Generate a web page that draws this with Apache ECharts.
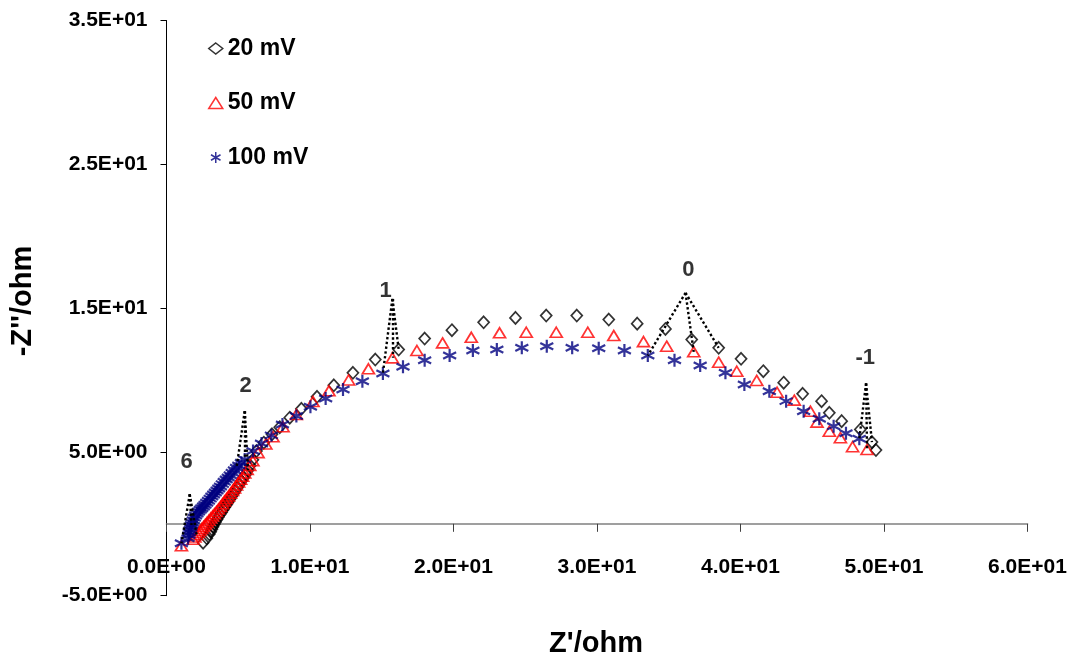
<!DOCTYPE html>
<html><head><meta charset="utf-8">
<script src="https://cdn.jsdelivr.net/npm/echarts@6/dist/echarts.min.js"></script>
<style>html,body{margin:0;padding:0;background:#fff}#c{width:1075px;height:661px}</style>
</head><body><div id="c"></div>
<script>
// ---- data (Z' , -Z'') in ohm ----
const seriesNames = ['20 mV', '50 mV', '100 mV'];

const mv20 = [
  [2.55,-1.31],[2.81,-1.01],[2.98,-0.73],[3.08,-0.55],[3.16,-0.38],[3.24,-0.20],[3.33,-0.03],
  [3.42,0.13],[3.52,0.30],[3.62,0.47],[3.73,0.64],[3.84,0.81],[3.95,0.98],[4.06,1.15],
  [4.18,1.33],[4.30,1.52],[4.42,1.71],[4.55,1.91],[4.68,2.11],[4.81,2.32],[4.95,2.53],
  [5.09,2.75],[5.23,2.97],[5.38,3.20],[5.53,3.45],[5.68,3.72],[5.84,4.05],[6.02,4.45],
  [6.27,5.06],[6.78,5.64],[7.35,6.22],[7.89,6.72],[8.59,7.38],[9.40,8.00],[10.49,8.83],
  [11.66,9.63],[12.99,10.50],[14.55,11.42],[16.18,12.12],[17.99,12.88],[19.89,13.46],
  [22.10,14.01],[24.32,14.32],[26.46,14.48],[28.59,14.48],[30.82,14.20],[32.80,13.92],
  [34.77,13.55],[36.60,12.81],[38.48,12.24],[40.04,11.47],[41.59,10.61],[43.01,9.81],
  [44.33,9.04],[45.65,8.53],[46.19,7.72],[47.05,7.14],[48.35,6.56],[49.16,5.68],[49.44,5.13]
];

const mv50 = [
  [1.04,-1.53],[1.85,-1.08],[1.98,-0.92],[2.10,-0.76],[2.22,-0.61],[2.34,-0.46],[2.46,-0.32],
  [2.58,-0.18],[2.70,-0.04],[2.82,0.10],[2.95,0.25],[3.08,0.40],[3.21,0.55],[3.34,0.70],
  [3.48,0.86],[3.62,1.03],[3.76,1.21],[3.90,1.40],[4.04,1.58],[4.18,1.76],[4.32,1.94],
  [4.46,2.12],[4.60,2.31],[4.74,2.50],[4.88,2.70],[5.02,2.90],[5.16,3.10],[5.30,3.31],
  [5.45,3.53],[5.62,3.78],[5.80,4.05],[6.02,4.38],[6.38,4.95],[6.92,5.55],[7.42,6.05],
  [8.12,6.75],[9.05,7.60],[10.21,8.50],[11.32,9.25],[12.69,10.00],[14.07,10.78],
  [15.74,11.54],[17.45,12.05],[19.24,12.58],[21.24,12.97],[23.21,13.28],[25.07,13.32],
  [27.16,13.32],[29.36,13.32],[31.17,13.09],[33.24,12.67],[34.86,12.35],[36.74,11.96],
  [38.48,11.24],[39.74,10.61],[41.13,9.97],[42.55,9.15],[43.75,8.60],[44.87,7.83],
  [45.33,7.07],[46.19,6.44],[46.96,5.99],[47.81,5.36],[48.82,5.17]
];

const mv100 = [
  [1.04,-1.35],[1.50,-1.00],[1.55,-0.80],[1.60,-0.60],[1.65,-0.42],[1.70,-0.25],[1.74,-0.08],
  [1.79,0.08],[1.86,0.25],[1.94,0.42],[2.03,0.58],[2.13,0.72],[2.24,0.85],[2.35,0.98],
  [2.46,1.08],[2.57,1.20],[2.68,1.33],[2.80,1.46],[2.92,1.60],[3.04,1.75],[3.16,1.90],
  [3.28,2.04],[3.40,2.18],[3.52,2.31],[3.64,2.45],[3.76,2.60],[3.89,2.76],[4.02,2.92],
  [4.16,3.08],[4.30,3.22],[4.44,3.38],[4.58,3.55],[4.73,3.72],[4.88,3.90],[5.04,4.06],
  [5.22,4.24],[5.45,4.48],[6.03,5.06],[6.62,5.59],[7.31,6.15],[8.08,6.91],[9.05,7.49],
  [10.03,8.14],[11.09,8.72],[12.30,9.34],[13.65,9.92],[15.08,10.45],[16.48,10.92],
  [17.99,11.38],[19.73,11.70],[21.35,12.05],[23.02,12.12],[24.76,12.24],[26.50,12.35],
  [28.27,12.24],[30.12,12.21],[31.91,12.05],[33.54,11.70],[35.40,11.38],[37.19,11.01],
  [38.95,10.50],[40.27,9.69],[42.01,9.22],[43.18,8.53],[44.40,7.83],[45.49,7.31],
  [46.49,6.79],[47.35,6.29],[48.28,5.92]
];

// frequency decade markers (log f)
const decadeLabels = ['6', '2', '1', '0', '-1'];
const decadeLabelPos = [[1.41,4.27],[5.52,9.62],[15.27,16.22],[36.37,17.67],[48.69,11.56]];
const decadePeaks = [[1.62,2.05],[5.45,7.83],[15.74,15.64],[36.17,16.06],[48.75,9.76]];
const decadeTargets = [
  [[1.04,-1.35],[1.74,-0.08],[2.10,-0.76]],
  [[4.88,3.90],[5.45,4.48],[5.68,3.72]],
  [[15.08,10.45],[15.74,11.54],[16.18,12.12]],
  [[33.54,11.70],[36.74,11.96],[38.48,12.24]],
  [[48.28,5.92],[48.82,5.17],[49.16,5.68]]
];

// axes
const xTickValues = [0, 10, 20, 30, 40, 50, 60];
const xTickLabels = ['0.0E+00','1.0E+01','2.0E+01','3.0E+01','4.0E+01','5.0E+01','6.0E+01'];
const yTickValues = [-5, 5, 15, 25, 35];
const yTickLabels = ['-5.0E+00','5.0E+00','1.5E+01','2.5E+01','3.5E+01'];

// ---- chart ----
const FONT = 'Arial, "Liberation Sans", sans-serif';
const chart = echarts.init(document.getElementById('c'), null, {renderer: 'canvas'});

const lineData = [];
decadePeaks.forEach((p, i) => {
  decadeTargets[i].forEach(t => lineData.push({coords: [p, t]}));
});

const asterisk = 'path://M5,0L5,10M0.67,2.5L9.33,7.5M0.67,7.5L9.33,2.5';

chart.setOption({
  animation: false,
  backgroundColor: '#fff',
  grid: {left: 166.5, right: 47.5, top: 20.5, bottom: 65.3, containLabel: false},
  legend: {
    data: seriesNames,
    orient: 'vertical',
    left: 208, top: 37, padding: 0,
    itemWidth: 14, itemHeight: 11, itemGap: 31.5,
    symbolKeepAspect: true,
    textStyle: {fontFamily: FONT, fontSize: 23, fontWeight: 'bold', color: '#000', lineHeight: 23},
    itemStyle: {borderWidth: 1.5}
  },
  xAxis: {
    type: 'value', min: 0, max: 60, interval: 10,
    axisLine: {onZero: true, lineStyle: {color: '#808080', width: 1.6}},
    axisTick: {show: true, length: 8, lineStyle: {color: '#404040', width: 1}},
    axisLabel: {
      margin: -39, fontFamily: FONT, fontSize: 21, fontWeight: 'bold', color: '#000',
      formatter: v => xTickLabels[xTickValues.indexOf(v)] || ''
    },
    splitLine: {show: false}
  },
  yAxis: {
    type: 'value', min: -5, max: 35,
    axisLine: {show: true, onZero: false, lineStyle: {color: '#000', width: 1}},
    axisTick: {show: true, length: 6, customValues: yTickValues, lineStyle: {color: '#000'}},
    axisLabel: {
      margin: 19, fontFamily: FONT, fontSize: 21, fontWeight: 'bold', color: '#000',
      customValues: yTickValues,
      formatter: v => yTickLabels[yTickValues.indexOf(v)] || ''
    },
    splitLine: {show: false}
  },
  graphic: [
    {type: 'text', x: 23, y: 301, rotation: Math.PI / 2,
     style: {text: "-Z''/ohm", font: 'bold 29px ' + FONT, fill: '#000', align: 'center', verticalAlign: 'middle'}},
    {type: 'text', x: 596, y: 644,
     style: {text: "Z'/ohm", font: 'bold 29px ' + FONT, fill: '#000', align: 'center', verticalAlign: 'middle'}}
  ],
  series: [
    {
      name: seriesNames[0], type: 'scatter', data: mv20, symbol: 'diamond', symbolSize: [11, 12],
      itemStyle: {color: 'rgba(0,0,0,0)', borderColor: '#000', borderWidth: 1.7}, z: 3
    },
    {
      name: seriesNames[1], type: 'scatter', data: mv50, symbol: 'triangle', symbolSize: [12, 10],
      itemStyle: {color: 'rgba(0,0,0,0)', borderColor: '#ff0000', borderWidth: 1.7}, z: 4
    },
    {
      name: seriesNames[2], type: 'scatter', data: mv100, symbol: asterisk, symbolSize: [13, 13],
      itemStyle: {color: 'rgba(0,0,0,0)', borderColor: '#000080', borderWidth: 2.2}, z: 5
    },
    {
      name: 'decade lines', type: 'lines', coordinateSystem: 'cartesian2d', polyline: false,
      data: lineData, silent: true, z: 6,
      lineStyle: {color: '#000', width: 2.4, type: 'dotted', opacity: 1, curveness: 0}
    },
    {
      name: 'decade labels', type: 'scatter', symbolSize: 0, silent: true, z: 7,
      data: decadeLabels.map((t, i) => ({name: t, value: decadeLabelPos[i]})),
      label: {show: true, position: 'inside', formatter: '{b}', fontFamily: FONT,
               fontSize: 22, fontWeight: 'bold', color: '#000'}
    }
  ]
});
</script>
</body></html>
